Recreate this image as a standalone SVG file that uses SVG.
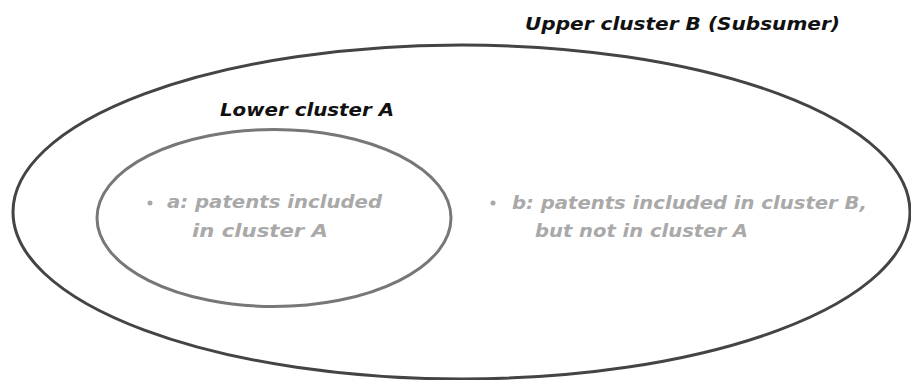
<svg xmlns="http://www.w3.org/2000/svg" width="911" height="380" viewBox="0 0 911 380">
<style>
.title{font-family:"DejaVu Sans","Liberation Sans",sans-serif;font-weight:bold;font-style:italic;font-size:18px;fill:#111}
.item{font-family:"DejaVu Sans","Liberation Sans",sans-serif;font-weight:bold;font-style:italic;font-size:18px;fill:#a9a9a9}
.bullet{fill:#a9a9a9}
</style>
<rect width="911" height="380" fill="#fff"/>
<g id="clusterB">
<ellipse cx="461.5" cy="212" rx="448.5" ry="167" fill="none" stroke="#444" stroke-width="3"/>
<text class="title" x="525" y="30" textLength="315" lengthAdjust="spacingAndGlyphs">Upper cluster B (Subsumer)</text>
<circle class="bullet" cx="493" cy="203" r="2.5"/>
<text class="item" x="512" y="209" textLength="355" lengthAdjust="spacingAndGlyphs">b: patents included in cluster B,</text>
<text class="item" x="535" y="237" textLength="213" lengthAdjust="spacingAndGlyphs">but not in cluster A</text>
</g>
<g id="clusterA">
<ellipse cx="274" cy="218" rx="177" ry="88.5" fill="none" stroke="#777" stroke-width="3"/>
<text class="title" x="220" y="116" textLength="174" lengthAdjust="spacingAndGlyphs">Lower cluster A</text>
<circle class="bullet" cx="150" cy="203" r="2.5"/>
<text class="item" x="167" y="208" textLength="215" lengthAdjust="spacingAndGlyphs">a: patents included</text>
<text class="item" x="192" y="237" textLength="136" lengthAdjust="spacingAndGlyphs">in cluster A</text>
</g>
<g id="connectors"/>
</svg>
